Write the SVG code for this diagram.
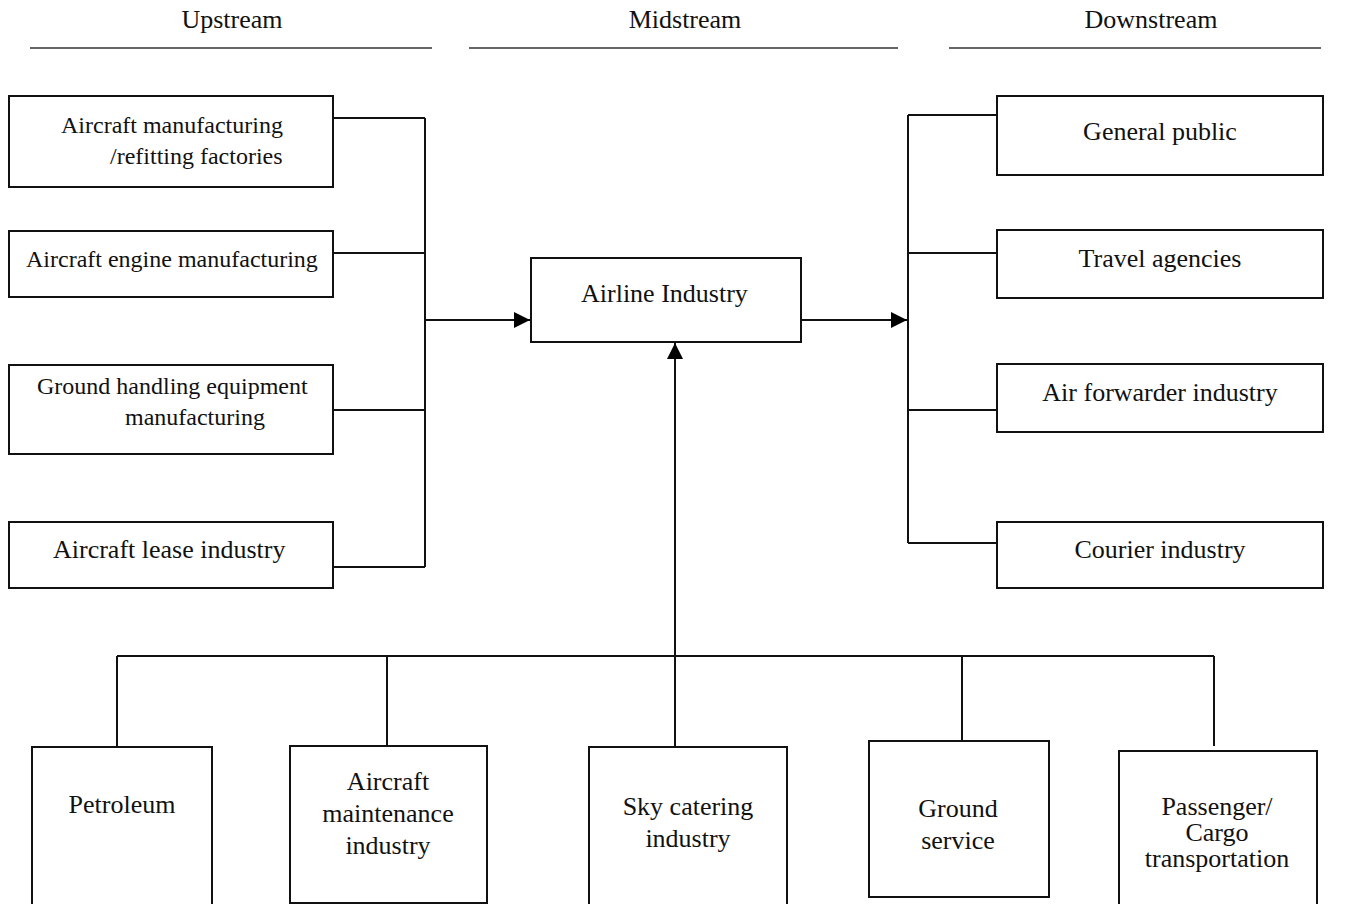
<svg xmlns="http://www.w3.org/2000/svg" width="1353" height="904" viewBox="0 0 1353 904">
<style>
text{font-family:"Liberation Serif","Times New Roman",serif;fill:#111;font-size:26px}
.s{font-size:24px}
.c{text-anchor:middle}
.box{fill:#fff;stroke:#111;stroke-width:2}
.ln{fill:none;stroke:#111;stroke-width:2}
.hd{stroke:#333;stroke-width:1.6}
</style>
<defs>
<marker id="ah" markerUnits="userSpaceOnUse" markerWidth="18" markerHeight="16" refX="16" refY="8" orient="auto">
<path d="M0,0 L16,8 L0,16 Z" fill="#000"/>
</marker>
</defs>
<rect width="1353" height="904" fill="#fff"/>
<g id="headers">
<text class="c" x="232" y="28">Upstream</text>
<text class="c" x="685" y="28">Midstream</text>
<text class="c" x="1151" y="28">Downstream</text>
<line class="hd" x1="30" y1="48" x2="432" y2="48"/>
<line class="hd" x1="469" y1="48" x2="898" y2="48"/>
<line class="hd" x1="949" y1="48" x2="1321" y2="48"/>
</g>
<g id="connectors">
<path class="ln" d="M333,118 H425 M333,253 H425 M333,410 H425 M333,567 H425 M425,118 V567"/>
<path class="ln" d="M425,320 H530" marker-end="url(#ah)"/>
<path class="ln" d="M801,320 H907" marker-end="url(#ah)"/>
<path class="ln" d="M908,115 V543 M908,115 H997 M908,253 H997 M908,410 H997 M908,543 H997"/>
<path class="ln" d="M117,656 H1214 M117,656 V746 M387,656 V746 M962,656 V741 M1214,656 V746"/>
<path class="ln" d="M675,746 V343" marker-end="url(#ah)"/>
</g>
<g id="n-aircraft-mfg">
<rect class="box" x="9" y="96" width="324" height="91"/>
<text class="s" x="61" y="133">Aircraft manufacturing</text>
<text class="s" x="110" y="164">/refitting factories</text>
</g>
<g id="n-engine">
<rect class="box" x="9" y="231" width="324" height="66"/>
<text class="s" x="26" y="267">Aircraft engine manufacturing</text>
</g>
<g id="n-ground-equip">
<rect class="box" x="9" y="365" width="324" height="89"/>
<text class="s" x="37" y="394">Ground handling equipment</text>
<text class="s" x="125" y="425">manufacturing</text>
</g>
<g id="n-lease">
<rect class="box" x="9" y="522" width="324" height="66"/>
<text x="53" y="558">Aircraft lease industry</text>
</g>
<g id="n-airline">
<rect class="box" x="531" y="258" width="270" height="84"/>
<text x="581" y="302">Airline Industry</text>
</g>
<g id="n-public">
<rect class="box" x="997" y="96" width="326" height="79"/>
<text class="c" x="1160" y="140">General public</text>
</g>
<g id="n-travel">
<rect class="box" x="997" y="230" width="326" height="68"/>
<text class="c" x="1160" y="267">Travel agencies</text>
</g>
<g id="n-forwarder">
<rect class="box" x="997" y="364" width="326" height="68"/>
<text class="c" x="1160" y="401">Air forwarder industry</text>
</g>
<g id="n-courier">
<rect class="box" x="997" y="522" width="326" height="66"/>
<text class="c" x="1160" y="558">Courier industry</text>
</g>
<g id="n-petroleum">
<rect class="box" x="32" y="747" width="180" height="170"/>
<text class="c" x="122" y="813">Petroleum</text>
</g>
<g id="n-maintenance">
<rect class="box" x="290" y="746" width="197" height="157"/>
<text class="c" x="388" y="790">Aircraft</text>
<text class="c" x="388" y="822">maintenance</text>
<text class="c" x="388" y="854">industry</text>
</g>
<g id="n-catering">
<rect class="box" x="589" y="747" width="198" height="170"/>
<text class="c" x="688" y="815">Sky catering</text>
<text class="c" x="688" y="847">industry</text>
</g>
<g id="n-ground-service">
<rect class="box" x="869" y="741" width="180" height="156"/>
<text class="c" x="958" y="817">Ground</text>
<text class="c" x="958" y="849">service</text>
</g>
<g id="n-passenger">
<rect class="box" x="1119" y="751" width="198" height="170"/>
<text class="c" x="1217" y="815">Passenger/</text>
<text class="c" x="1217" y="841">Cargo</text>
<text class="c" x="1217" y="867">transportation</text>
</g>
</svg>
